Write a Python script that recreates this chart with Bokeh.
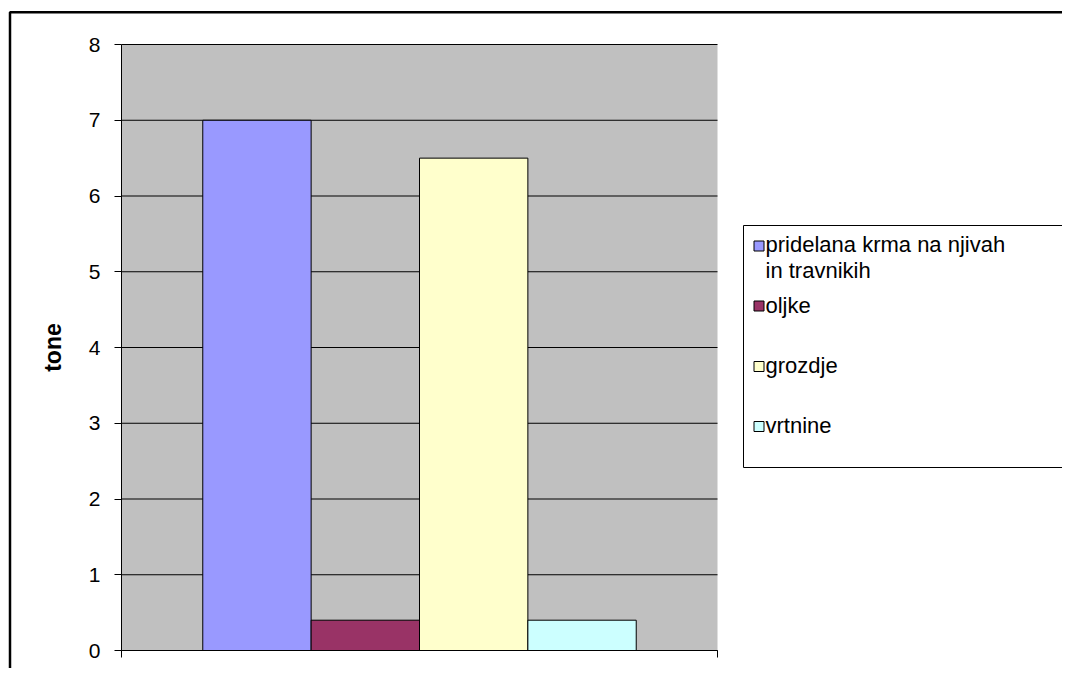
from bokeh.plotting import figure
from bokeh.models import Range1d, FixedTicker, LinearAxis
from bokeh.core.properties import value
from bokeh.embed import file_html
from bokeh.resources import INLINE

# ---- data ----
series = ["pridelana krma na njivah\nin travnikih", "oljke", "grozdje", "vrtnine"]
values = [7.0, 0.4, 6.5, 0.4]
colors = ["#9999FF", "#993366", "#FFFFCC", "#CCFFFF"]
y_ticks = [0, 1, 2, 3, 4, 5, 6, 7, 8]
y_label = "tone"

FONT = "Liberation Sans"

# ---- layout (canvas pixels) ----
W, H = 1062, 668
PL, PR, PT, PB = 121, 717, 44, 650          # plot-area box
YMAX = 8.0
sx = (PR - PL) / 1.0                       # px per x unit
sy = (PB - PT) / YMAX                      # px per y unit

p = figure(width=W, height=H, output_backend="svg", toolbar_location=None,
           x_axis_location=None, y_axis_location=None,
           x_range=Range1d(-PL / sx, (W - PL) / sx),
           y_range=Range1d(-(H - PB) / sy, YMAX + PT / sy),
           min_border=0, min_border_left=0, min_border_right=0,
           min_border_top=0, min_border_bottom=0)
p.background_fill_color = "white"
p.border_fill_color = "white"
p.outline_line_color = None
p.grid.visible = False

def dx(px):
    return (px - PL) / sx
def dy(py):
    return (PB - py) / sy

# outer chart border (top and left edges inside the window)
p.line(x=[dx(9.5), dx(9.5), dx(W + 20)], y=[dy(H + 20), dy(11.7), dy(11.7)],
       line_color="black", line_width=2.5)

# plot area background
p.quad(left=[0], right=[1], bottom=[0], top=[YMAX], fill_color="#C0C0C0", line_color=None)

# horizontal gridlines
p.segment(x0=[0] * len(y_ticks), x1=[1] * len(y_ticks), y0=y_ticks, y1=y_ticks,
          line_color="black", line_width=1)

# bars, clustered with 150% gap width
n = len(values)
bw = 1.0 / (n + 1.5)
centers = [0.5 + (i - (n - 1) / 2) * bw for i in range(n)]
p.vbar(x=centers, top=values, bottom=0, width=bw, fill_color=colors,
       line_color="black", line_width=1)

# y axis
ya = LinearAxis(fixed_location=0, ticker=FixedTicker(ticks=y_ticks), bounds=(0, YMAX))
ya.minor_tick_line_color = None
ya.major_tick_out = 7
ya.major_tick_in = 0
ya.major_label_standoff = 14
ya.major_label_text_font = FONT
ya.major_label_text_font_size = "21px"
ya.major_label_text_color = "black"
ya.axis_line_color = "black"
ya.major_tick_line_color = "black"
ya.axis_label = y_label
ya.axis_label_text_font = FONT
ya.axis_label_text_font_size = "23px"
ya.axis_label_text_font_style = "bold"
ya.axis_label_text_color = "black"
ya.axis_label_standoff = 20
p.add_layout(ya, "left")

# x axis (category axis without labels)
xa = LinearAxis(fixed_location=0, ticker=FixedTicker(ticks=[0, 1]), bounds=(0, 1))
xa.minor_tick_line_color = None
xa.major_tick_out = 7
xa.major_tick_in = 0
xa.major_label_overrides = {0: "", 1: ""}
xa.major_label_text_font_size = "1px"
xa.axis_line_color = "black"
xa.major_tick_line_color = "black"
p.add_layout(xa, "below")

# legend (box runs off the right edge of the window)
LB_L, LB_T, LB_B = 743, 225, 467
p.quad(left=[dx(LB_L)], right=[dx(W + 40)], top=[dy(LB_T)], bottom=[dy(LB_B)],
       fill_color="white", line_color=None)
p.line(x=[dx(W + 40), dx(LB_L), dx(LB_L), dx(W + 40)],
       y=[dy(LB_T), dy(LB_T), dy(LB_B), dy(LB_B)], line_color="black", line_width=1)
sw_y = [245.5, 305.5, 366, 426]      # swatch centres
tx_y = [244, 305, 365, 425]          # first text line centres
LINE = 26
p.scatter(x=[dx(758.5)] * n, y=[dy(v) for v in sw_y], marker="square", size=10,
          fill_color=colors, line_color="black", line_width=1)
lx, ly, lt = [], [], []
for name, ty in zip(series, tx_y):
    for k, line in enumerate(name.split("\n")):
        lx.append(dx(765))
        ly.append(dy(ty + k * LINE))
        lt.append(line)
p.text(x=lx, y=ly, text=lt,
       text_font=value(FONT), text_font_size="22px", text_baseline="middle",
       text_align="left", text_color="black")

open("out.html", "w").write(file_html(p, INLINE))
